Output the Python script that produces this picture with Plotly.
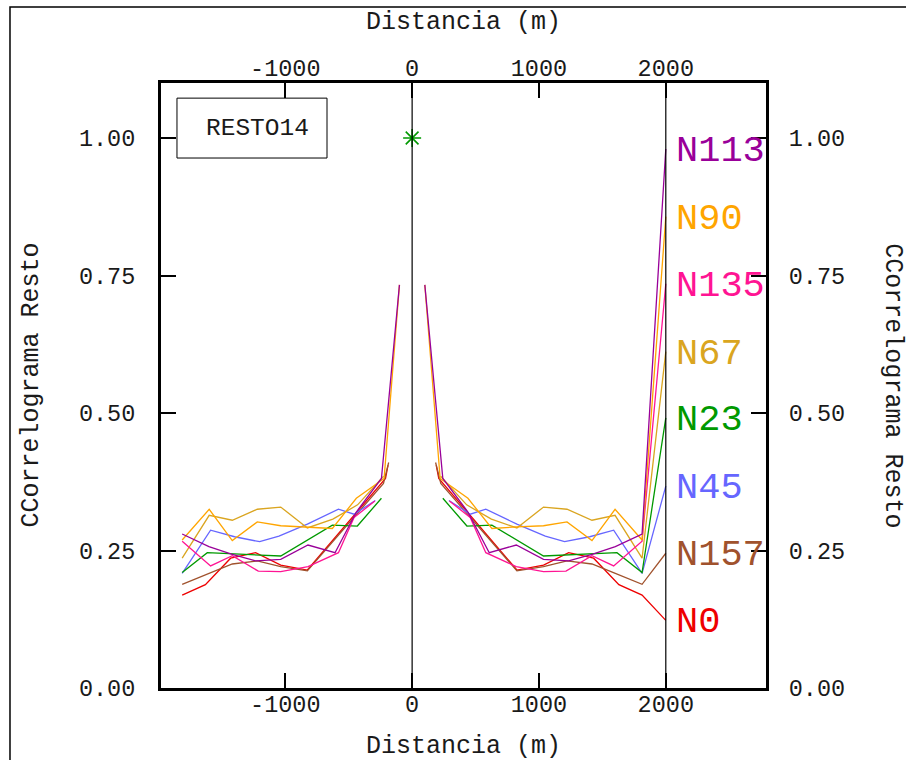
import plotly.graph_objects as go

# ---------------- data (positive-lag side; the correlogram is symmetric) ----------------
names = ["N0", "N157", "N45", "N23", "N67", "N135", "N90", "N113"]
colors = ["#ee0000", "#a0522d", "#6666ff", "#009900", "#daa520", "#ff1493", "#ffa500", "#990099"]

lags_N0 = [190, 210, 826, 1036, 1234, 1431, 1630, 1813]
vals_N0 = [0.405, 0.381, 0.2145, 0.2236, 0.246, 0.236, 0.188, 0.169]

lags_N157 = [185, 226, 826, 1036, 1221, 1418, 1602, 1813]
vals_N157 = [0.410, 0.372, 0.213, 0.2206, 0.231, 0.2255, 0.2085, 0.1885]

lags_N45 = [290, 458, 581, 826, 1050, 1202, 1400, 1589, 1813]
vals_N45 = [0.341, 0.316, 0.325, 0.298, 0.276, 0.266, 0.275, 0.287, 0.2085]

lags_N23 = [242, 432, 629, 1036, 1615, 1813]
vals_N23 = [0.345, 0.2945, 0.296, 0.240, 0.246, 0.210]

lags_N67 = [225, 430, 625, 826, 1036, 1221, 1418, 1600, 1813]
vals_N67 = [0.385, 0.333, 0.307, 0.291, 0.329, 0.325, 0.305, 0.314, 0.236]

lags_N135 = [294, 458, 581, 821, 1036, 1213, 1418, 1589, 1813]
vals_N135 = [0.340, 0.310, 0.246, 0.2206, 0.2115, 0.2124, 0.2406, 0.222, 0.267]

lags_N90 = [100, 221, 440, 629, 826, 1036, 1221, 1418, 1600, 1813]
vals_N90 = [0.733, 0.381, 0.345, 0.290, 0.293, 0.295, 0.302, 0.268, 0.325, 0.269]

lags_N113 = [100, 242, 440, 608, 821, 1036, 1234, 1418, 1602, 1813]
vals_N113 = [0.733, 0.381, 0.320, 0.246, 0.260, 0.234, 0.231, 0.243, 0.257, 0.280]

# label anchor values at x = 2000 (lines run to their labels)
label_x = 2000
label_y = [0.123, 0.245, 0.367, 0.491, 0.6115, 0.735, 0.857, 0.980]

star_x = [0]
star_y = [1.0]

x_tickvals = [-1000, 0, 1000, 2000]
x_ticktext = ["-1000", "0", "1000", "2000"]
y_tickvals = [0.0, 0.25, 0.5, 0.75, 1.0]
y_ticktext = ["0.00", "0.25", "0.50", "0.75", "1.00"]

title_text = "RESTO14"
x_title = "Distancia (m)"
y_title = "CCorrelograma Resto"

lags = [lags_N0, lags_N157, lags_N45, lags_N23, lags_N67, lags_N135, lags_N90, lags_N113]
vals = [vals_N0, vals_N157, vals_N45, vals_N23, vals_N67, vals_N135, vals_N90, vals_N113]

# ---------------- figure ----------------
FONT = "Liberation Mono, Courier New, monospace"
TXT = "#1a1a1a"
fig = go.Figure()

for name, col, lg, vl, ly in zip(names, colors, lags, vals, label_y):
    xs = [-v for v in lg[::-1]] + [None] + lg + [label_x]
    ys = vl[::-1] + [None] + vl + [ly]
    fig.add_trace(go.Scatter(x=xs, y=ys, mode="lines", name=name,
                             line=dict(color=col, width=1.3), connectgaps=False,
                             hoverinfo="skip"))
    fig.add_annotation(x=label_x, y=ly, xref="x", yref="y", text=name,
                       showarrow=False, xanchor="left", yanchor="middle",
                       xshift=8, yshift=-2,
                       font=dict(family=FONT, size=37, color=col))

fig.add_trace(go.Scatter(x=star_x, y=star_y, mode="markers",
                         marker=dict(symbol="asterisk-open", size=15, color="#009900",
                                     line=dict(color="#009900", width=1.6)),
                         hoverinfo="skip"))
# dummy trace to activate secondary axes
fig.add_trace(go.Scatter(x=star_x, y=star_y, xaxis="x2", yaxis="y2", mode="markers",
                         marker=dict(opacity=0), hoverinfo="skip"))

# vertical reference lines at 0 and 2000
for xv in [0, label_x]:
    fig.add_shape(type="line", xref="x", yref="paper", x0=xv, x1=xv, y0=0, y1=1,
                  line=dict(color="black", width=1.2))

axis_common = dict(showgrid=False, zeroline=False, ticks="inside", ticklen=15,
                   tickwidth=1.5, tickcolor="black", showline=True, linewidth=3,
                   linecolor="black", tickfont=dict(family=FONT, size=23.5, color=TXT))

fig.update_layout(
    width=906, height=760,
    margin=dict(l=161, r=140, t=83, b=72),
    plot_bgcolor="white", paper_bgcolor="white",
    showlegend=False,
    font=dict(family=FONT, color=TXT),
    xaxis=dict(range=[-1980, 2790], tickvals=x_tickvals, ticktext=x_ticktext,
               ticklabelstandoff=-7, **axis_common),
    xaxis2=dict(range=[-1980, 2790], tickvals=x_tickvals, ticktext=x_ticktext,
                overlaying="x", side="top", matches="x", ticklabelstandoff=-5,
                **axis_common),
    yaxis=dict(range=[0, 1.1], tickvals=y_tickvals, ticktext=y_ticktext,
               ticklabelstandoff=18, **axis_common),
    yaxis2=dict(range=[0, 1.1], tickvals=y_tickvals, ticktext=y_ticktext,
                overlaying="y", side="right", matches="y", ticklabelstandoff=15,
                **axis_common),
)

# title box
fig.add_shape(type="rect", xref="paper", yref="paper", x0=0.0264, x1=0.2744,
              y0=0.876, y1=0.975, line=dict(color="black", width=1), fillcolor="white")
fig.add_annotation(xref="paper", yref="paper", x=0.160, y=0.9256, text=title_text,
                   showarrow=False, xanchor="center", yanchor="middle",
                   font=dict(family=FONT, size=24.5, color=TXT))

# outer frame (extends off the page)
fig.add_shape(type="rect", xref="paper", yref="paper", x0=-0.2496, x1=2, y0=-1,
              y1=1.1256, line=dict(color="black", width=1.5), layer="below")

# axis titles
fig.add_annotation(xref="paper", yref="paper", x=0.5, y=1.1,
                   text=x_title, showarrow=False, xanchor="center", yanchor="middle",
                   font=dict(family=FONT, size=25, color=TXT))
fig.add_annotation(xref="paper", yref="paper", x=0.5, y=-0.0975,
                   text=x_title, showarrow=False, xanchor="center", yanchor="middle",
                   font=dict(family=FONT, size=25, color=TXT))
fig.add_annotation(xref="paper", yref="paper", x=-0.2148, y=0.5, textangle=-90,
                   text=y_title, showarrow=False, xanchor="center", yanchor="middle",
                   font=dict(family=FONT, size=25, color=TXT))
fig.add_annotation(xref="paper", yref="paper", x=1.2085, y=0.5, textangle=90,
                   text=y_title, showarrow=False, xanchor="center", yanchor="middle",
                   font=dict(family=FONT, size=25, color=TXT))

fig.write_html("out.html")
